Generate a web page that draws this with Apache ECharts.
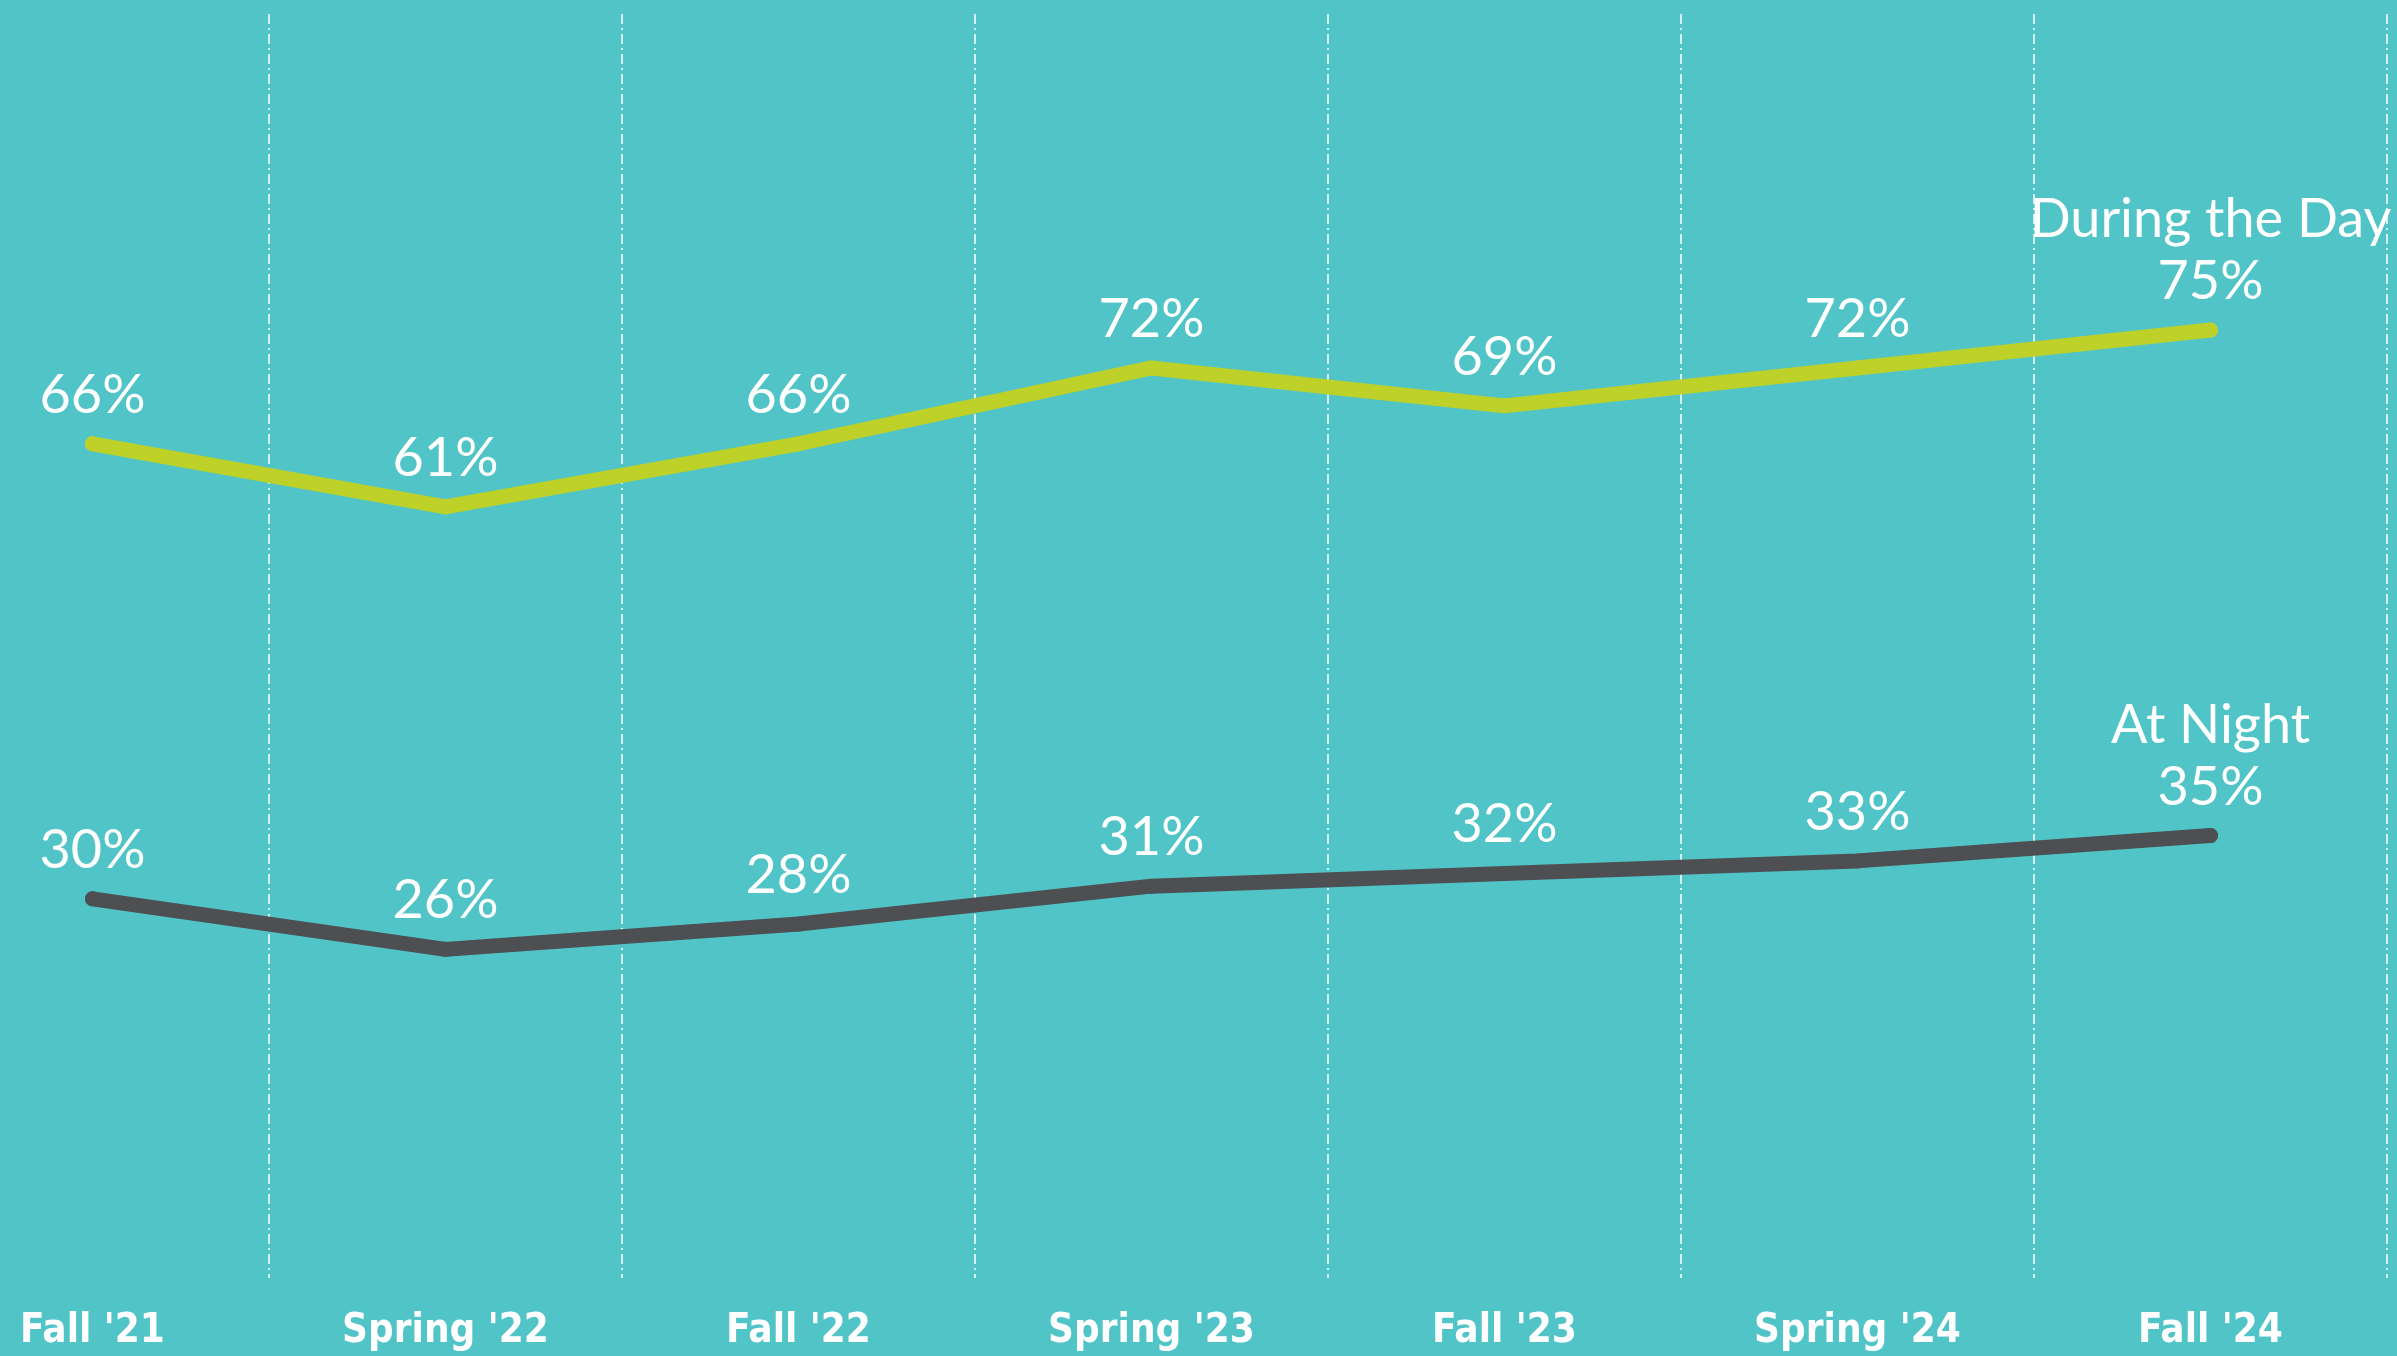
<!DOCTYPE html>
<html>
<head>
<meta charset="utf-8">
<script src="https://cdn.jsdelivr.net/npm/echarts@6/dist/echarts.min.js"></script>
<style>
  html, body { margin: 0; padding: 0; background: #50c4c6; }
  #chart { width: 2397px; height: 1356px; }
</style>
</head>
<body>
<div id="chart"></div>
<script>
const categories = ["Fall '21", "Spring '22", "Fall '22", "Spring '23", "Fall '23", "Spring '24", "Fall '24"];
const duringTheDay = [66, 61, 66, 72, 69, 72, 75];
const atNight = [30, 26, 28, 31, 32, 33, 35];

const BG = '#50c4c6';
const DAY_COLOR = '#bed129';
const NIGHT_COLOR = '#4d4f52';

const chart = echarts.init(document.getElementById('chart'), null, { renderer: 'canvas' });

// last point also carries the series name above the value
function labelFor(name) {
  return p => p.dataIndex === categories.length - 1
    ? name + '\n' + p.value + '%'
    : p.value + '%';
}

function lineSeries(name, data, color) {
  return {
    name,
    type: 'line',
    data,
    symbol: 'circle',
    symbolSize: 15,
    showSymbol: true,
    itemStyle: { color },
    lineStyle: { color, width: 15, cap: 'round', join: 'round' },
    label: {
      show: true,
      position: 'top',
      distance: 10,
      color: '#fff',
      fontFamily: 'Lato, "Open Sans", sans-serif',
      fontSize: 54,
      lineHeight: 62,
      formatter: labelFor(name)
    },
    emphasis: { disabled: true },
    z: 3
  };
}

chart.setOption({
  backgroundColor: BG,
  animation: false,
  // first band starts off-canvas, so its left split line is hidden
  grid: { left: -84, right: 10, top: 14, bottom: 78, containLabel: false, outerBoundsMode: 'none' },
  xAxis: {
    type: 'category',
    data: categories,
    boundaryGap: true,
    axisLine: { show: false },
    axisTick: { show: false },
    axisLabel: {
      color: '#fff',
      fontFamily: '"Liberation Sans Narrow", "DejaVu Sans Condensed", "Liberation Sans", sans-serif',
      fontWeight: 'bold',
      fontSize: 40,
      margin: 34,
      interval: 0
    },
    splitLine: {
      show: true,
      interval: 0,
      lineStyle: { color: '#fff', width: 1.5, type: [10, 4, 2, 4] }
    }
  },
  yAxis: {
    type: 'value',
    min: 0,
    max: 100,
    show: false,
    splitLine: { show: false }
  },
  series: [
    lineSeries('During the Day', duringTheDay, DAY_COLOR),
    lineSeries('At Night', atNight, NIGHT_COLOR)
  ]
});
</script>
</body>
</html>
